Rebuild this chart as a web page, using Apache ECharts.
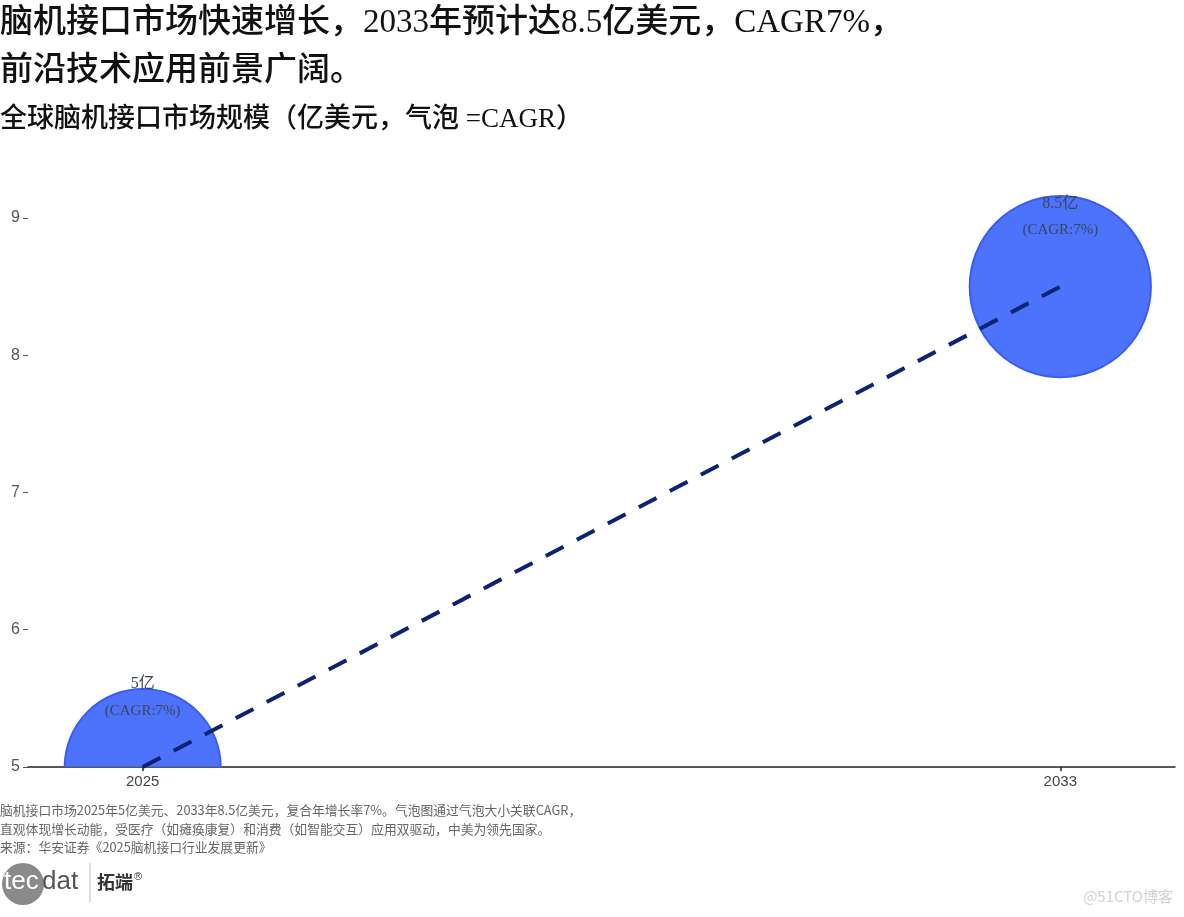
<!DOCTYPE html>
<html>
<head>
<meta charset="utf-8">
<script src="https://cdn.jsdelivr.net/npm/echarts@6/dist/echarts.min.js"></script>
<style>
html,body{margin:0;padding:0;background:#fff;}
#chart{width:1184px;height:917px;}
</style>
</head>
<body>
<div id="chart"></div>
<script>
// ---- data ----
const years = [2025, 2033];
const marketSize = [5, 8.5];      // 亿美元
const cagrPct = [7, 7];           // %
const xTicks = [2025, 2033];
const yTicks = [5, 6, 7, 8, 9];

const titleLines = ['脑机接口市场快速增长，2033年预计达8.5亿美元，CAGR7%，', '前沿技术应用前景广阔。'];
const subtitle = '全球脑机接口市场规模（亿美元，气泡 =CAGR）';
const footLines = [
  '脑机接口市场2025年5亿美元、2033年8.5亿美元，复合年增长率7%。气泡图通过气泡大小关联CAGR，',
  '直观体现增长动能，受医疗（如瘫痪康复）和消费（如智能交互）应用双驱动，中美为领先国家。',
  '来源：华安证券《2025脑机接口行业发展更新》'
];

// ---- build ----
const points = years.map((y, i) => [y, marketSize[i], cagrPct[i]]);
function bubbleRadius(v) { return 60 + 3.6 * v; }
const serifCJK = '"Liberation Serif","Noto Sans CJK SC",serif';
const sansCJK = '"Noto Sans CJK SC","Liberation Sans",sans-serif';

const chart = echarts.init(document.getElementById('chart'));
chart.setOption({
  animation: false,
  backgroundColor: '#fff',
  grid: { left: 28, right: 9, top: 163, bottom: 150, containLabel: false },
  xAxis: {
    type: 'value', min: 2024, max: 2034,
    splitLine: { show: false },
    axisLine: { show: true, onZero: false, lineStyle: { color: '#222', width: 1.5 } },
    axisTick: { show: true, length: 4, customValues: xTicks, lineStyle: { color: '#222', width: 1.5 } },
    axisLabel: { customValues: xTicks, margin: 7, color: '#444', fontSize: 15, fontFamily: '"Liberation Sans",sans-serif', formatter: v => String(v) }
  },
  yAxis: {
    type: 'value', min: 5, max: 9.4,
    splitLine: { show: false },
    axisLine: { show: false },
    axisTick: { show: true, length: 5, customValues: yTicks, lineStyle: { color: '#555', width: 1 } },
    axisLabel: { customValues: yTicks, margin: 8, color: '#555', fontSize: 16, fontFamily: '"Liberation Sans",sans-serif' }
  },
  series: [
    {
      type: 'custom',
      clip: true,
      data: points,
      z: 2,
      renderItem: function (params, api) {
        const x = api.value(0), v = api.value(1), c = api.value(2);
        const p = api.coord([x, v]);
        const r = bubbleRadius(v);
        return {
          type: 'group',
          children: [
            { type: 'circle', shape: { cx: p[0], cy: p[1], r: r },
              style: { fill: 'rgba(64,104,253,0.93)', stroke: '#3a5cf6', lineWidth: 2 } },
            { type: 'text', x: p[0], y: p[1] - 83,
              style: { text: v + '亿', fill: '#3a4656', font: '16px ' + serifCJK, textAlign: 'center', textVerticalAlign: 'middle' } },
            { type: 'text', x: p[0], y: p[1] - 56,
              style: { text: '(CAGR:' + c + '%)', fill: '#3a4656', font: '15px ' + serifCJK, textAlign: 'center', textVerticalAlign: 'middle' } }
          ]
        };
      }
    },
    {
      type: 'line',
      data: points.map(d => [d[0], d[1]]),
      z: 3,
      symbol: 'none',
      lineStyle: { color: '#0b2371', width: 4, type: [20, 15], cap: 'butt' }
    }
  ],
  graphic: [
    { type: 'text', x: 0, y: 23, style: { text: titleLines[0], fill: '#111', font: '500 33px ' + serifCJK, textVerticalAlign: 'middle' } },
    { type: 'text', x: 0, y: 71, style: { text: titleLines[1], fill: '#111', font: '500 33px ' + serifCJK, textVerticalAlign: 'middle' } },
    { type: 'text', x: 0, y: 120, style: { text: subtitle, fill: '#111', font: '500 27px ' + serifCJK, textVerticalAlign: 'middle' } },
    { type: 'text', x: 0, y: 810, style: { text: footLines[0], fill: '#666', font: '12.8px ' + sansCJK, textVerticalAlign: 'middle' } },
    { type: 'text', x: 0, y: 829, style: { text: footLines[1], fill: '#666', font: '12.8px ' + sansCJK, textVerticalAlign: 'middle' } },
    { type: 'text', x: 0, y: 847, style: { text: footLines[2], fill: '#666', font: '12.8px ' + sansCJK, textVerticalAlign: 'middle' } },
    { type: 'circle', shape: { cx: 23, cy: 884, r: 21 }, style: { fill: '#8a8a8a' } },
    { type: 'text', x: 4, y: 882, style: { text: 'tec', fill: '#fff', font: '26px "Liberation Sans",sans-serif', textVerticalAlign: 'middle' } },
    { type: 'text', x: 42, y: 882, style: { text: 'dat', fill: '#555', font: '26px "Liberation Sans",sans-serif', textVerticalAlign: 'middle' } },
    { type: 'line', shape: { x1: 90, y1: 863, x2: 90, y2: 902 }, style: { stroke: '#bbb', lineWidth: 1 } },
    { type: 'text', x: 97, y: 882, style: { text: '拓端', fill: '#333', font: 'bold 18px ' + sansCJK, textVerticalAlign: 'middle' } },
    { type: 'text', x: 134, y: 877, style: { text: '®', fill: '#333', font: '11px "Liberation Sans",sans-serif', textVerticalAlign: 'middle' } },
    { type: 'text', right: 11, top: 889, style: { text: '@51CTO博客', fill: '#d2d2d2', font: '15px ' + sansCJK } }
  ]
});
</script>
</body>
</html>
